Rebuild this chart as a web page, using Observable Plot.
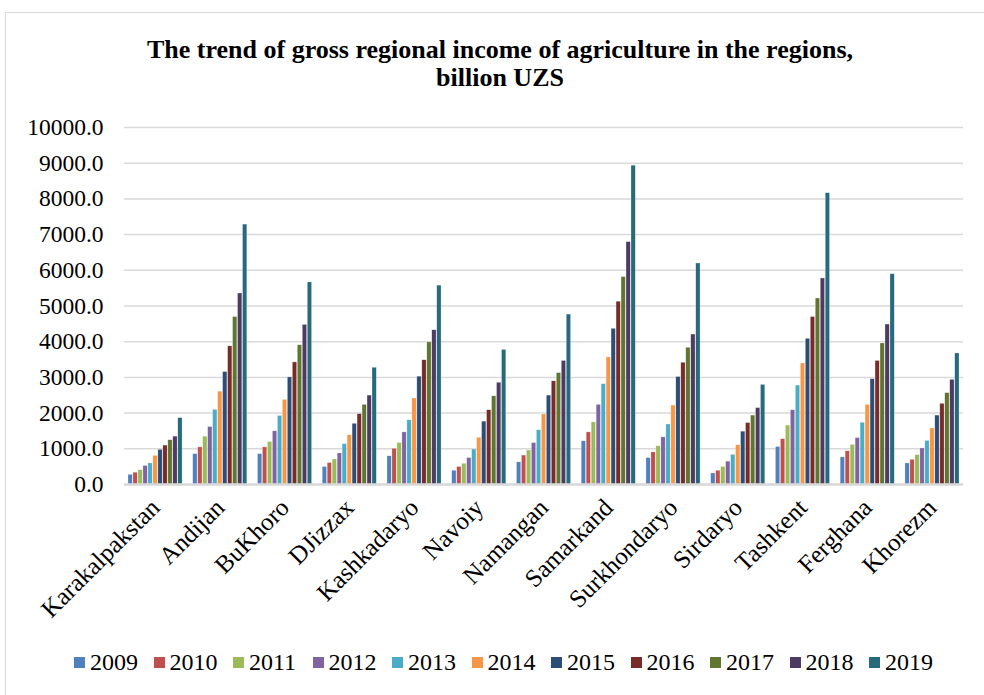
<!DOCTYPE html>
<html>
<head>
<meta charset="utf-8">
<script src="https://cdn.jsdelivr.net/npm/d3@7"></script>
<script src="https://cdn.jsdelivr.net/npm/@observablehq/plot@0.6"></script>
<style>
  html, body { margin: 0; padding: 0; background: #fff; }
  #wrap { position: relative; width: 984px; height: 695px; overflow: hidden; font-family: "Liberation Serif", "Times New Roman", serif; }
  #frame { position: absolute; left: 5px; top: 12px; width: 1000px; height: 700px; border: 1.5px solid #d9d9d9; box-sizing: border-box; }
  #title { position: absolute; left: 0; top: 36px; width: 1000px; text-align: center; font-weight: bold; font-size: 26px; line-height: 28px; color: #000; }
  #chart { position: absolute; left: 0; top: 100px; }
  #legend { position: absolute; left: 74px; top: 650px; display: flex; font-size: 24px; line-height: 24px; color: #000; }
  .item { width: 79.5px; display: flex; align-items: center; }
  .sw { width: 11px; height: 11px; margin-right: 5px; flex: none; }
</style>
</head>
<body>
<div id="wrap">
  <div id="frame"></div>
  <div id="title">The trend of gross regional income of agriculture in the regions,<br>billion UZS</div>
  <div id="chart"></div>
  <div id="legend"></div>
</div>
<script>
const regions = ["Karakalpakstan","Andijan","BuKhoro","DJizzax","Kashkadaryo","Navoiy","Namangan","Samarkand","Surkhondaryo","Sirdaryo","Tashkent","Ferghana","Khorezm"];
const years = ["2009","2010","2011","2012","2013","2014","2015","2016","2017","2018","2019"];
const colors = ["#4F81BD","#C0504D","#9BBB59","#8064A2","#4BACC6","#F79646","#2C4D75","#772C2A","#5F7530","#4D3B62","#276A7C"];

const y2009 = [270,850,850,490,790,385,620,1210,740,310,1050,760,590];
const y2010 = [330,1040,1040,600,1000,490,810,1460,900,385,1270,930,690];
const y2011 = [400,1340,1190,700,1160,580,950,1740,1070,490,1650,1110,820];
const y2012 = [520,1610,1490,870,1460,740,1160,2230,1320,640,2080,1300,1010];
const y2013 = [590,2090,1920,1130,1800,980,1520,2810,1680,830,2770,1730,1220];
const y2014 = [800,2600,2370,1380,2410,1310,1960,3560,2210,1100,3390,2230,1570];
const y2015 = [970,3150,3000,1700,3020,1760,2490,4360,3010,1480,4080,2950,1930];
const y2016 = [1090,3870,3420,1970,3480,2080,2890,5120,3410,1720,4690,3460,2260];
const y2017 = [1240,4690,3900,2230,3980,2470,3120,5810,3830,1930,5210,3950,2560];
const y2018 = [1340,5350,4470,2490,4320,2850,3460,6790,4200,2140,5770,4480,2930];
const y2019 = [1860,7280,5660,3270,5570,3770,4760,8930,6190,2790,8160,5890,3670];
const yTicks = [0,1000,2000,3000,4000,5000,6000,7000,8000,9000,10000];

const series = [y2009,y2010,y2011,y2012,y2013,y2014,y2015,y2016,y2017,y2018,y2019];
const data = [];
regions.forEach((r, i) => years.forEach((yr, j) => data.push({key: r + "|" + yr, year: yr, value: series[j][i]})));

// band domain: each region's years, with two empty slots between groups
const xDomain = [];
regions.forEach((r, i) => {
  if (i > 0) xDomain.push("gap" + i + "a", "gap" + i + "b");
  years.forEach(yr => xDomain.push(r + "|" + yr));
});
const labelKeys = regions.map(r => r + "|2014");

const chart = Plot.plot({
  width: 984,
  height: 534,
  marginTop: 27,
  marginLeft: 124,
  marginRight: 21,
  marginBottom: 150,
  style: {fontFamily: "'Liberation Serif', 'Times New Roman', serif", fontSize: "23.5px", color: "#000", background: "transparent"},
  x: {domain: xDomain, paddingInner: 0.14, paddingOuter: 0.8, label: null},
  y: {domain: [0, 10000], ticks: yTicks, label: null},
  color: {domain: years, range: colors},
  marks: [
    Plot.gridY(yTicks, {stroke: "#d9d9d9", strokeOpacity: 1, strokeWidth: 1.5}),
    Plot.barY(data, {x: "key", y: "value", fill: "year", stroke: "#fff", strokeOpacity: 0.5, strokeWidth: 0.5}),
    Plot.ruleY([0], {stroke: "#d9d9d9", strokeWidth: 2.5}),
    Plot.axisY(yTicks, {tickSize: 0, tickPadding: 21, tickFormat: d => d.toFixed(1), label: null, fill: "#000"}),
    Plot.axisX(labelKeys, {tickRotate: -45, tickSize: 0, tickPadding: 19, fontSize: 25, tickFormat: d => d.split("|")[0], label: null, fill: "#000"})
  ]
});
document.getElementById("chart").appendChild(chart);

const legend = document.getElementById("legend");
years.forEach((yr, j) => {
  const it = document.createElement("div");
  it.className = "item";
  const sw = document.createElement("span");
  sw.className = "sw";
  sw.style.background = colors[j];
  const t = document.createElement("span");
  t.textContent = yr;
  it.appendChild(sw); it.appendChild(t);
  legend.appendChild(it);
});
</script>
</body>
</html>
